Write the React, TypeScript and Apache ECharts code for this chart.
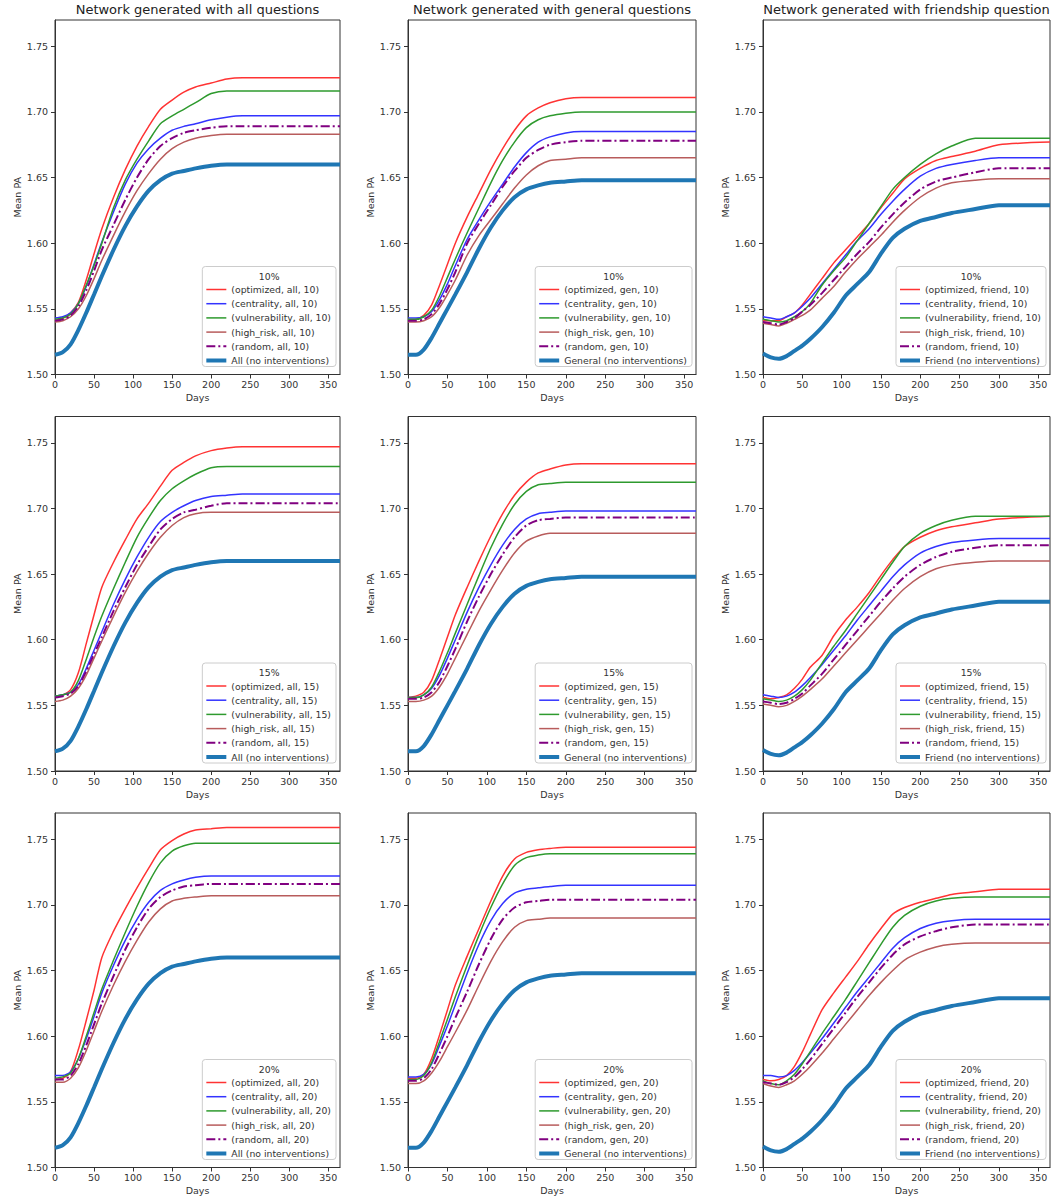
import React, { useEffect, useRef } from 'react';
import * as echarts from 'echarts';

// ---------- data ----------
const days = [0, 10, 20, 30, 40, 50, 60, 75, 90, 105, 120, 135, 150, 165, 180, 200, 220, 240, 270, 300, 365];

const xTicks = [0, 50, 100, 150, 200, 250, 300, 350];
const yTicks = [1.5, 1.55, 1.6, 1.65, 1.7, 1.75];

const columnTitles = [
  'Network generated with all questions',
  'Network generated with general questions',
  'Network generated with friendship question',
];
const strategies = ['optimized', 'centrality', 'vulnerability', 'high_risk', 'random'];
const networkTags = ['all', 'gen', 'friend'];
const baselineNames = ['All', 'General', 'Friend'];
const percents = [10, 15, 20];

// all questions
const all10Optimized = [1.541, 1.543, 1.547, 1.555, 1.572, 1.592, 1.611, 1.635, 1.656, 1.674, 1.689, 1.702, 1.709, 1.715, 1.719, 1.722, 1.725, 1.726, 1.726, 1.726, 1.726];
const all10Centrality = [1.543, 1.544, 1.547, 1.554, 1.567, 1.584, 1.601, 1.624, 1.645, 1.661, 1.672, 1.680, 1.686, 1.689, 1.691, 1.694, 1.696, 1.697, 1.697, 1.697, 1.697];
const all10Vulnerability = [1.542, 1.543, 1.546, 1.554, 1.568, 1.583, 1.600, 1.627, 1.648, 1.664, 1.678, 1.691, 1.697, 1.702, 1.707, 1.714, 1.716, 1.716, 1.716, 1.716, 1.716];
const all10HighRisk = [1.540, 1.541, 1.544, 1.550, 1.560, 1.573, 1.587, 1.606, 1.624, 1.640, 1.653, 1.664, 1.672, 1.677, 1.680, 1.682, 1.683, 1.683, 1.683, 1.683, 1.683];
const all10Random = [1.541, 1.542, 1.545, 1.552, 1.564, 1.579, 1.595, 1.614, 1.633, 1.650, 1.664, 1.674, 1.680, 1.684, 1.686, 1.688, 1.689, 1.689, 1.689, 1.689, 1.689];

const all15Optimized = [1.557, 1.558, 1.562, 1.575, 1.597, 1.619, 1.640, 1.659, 1.676, 1.692, 1.704, 1.717, 1.729, 1.735, 1.740, 1.744, 1.746, 1.747, 1.747, 1.747, 1.747];
const all15Centrality = [1.557, 1.558, 1.560, 1.566, 1.578, 1.592, 1.606, 1.627, 1.646, 1.663, 1.678, 1.690, 1.697, 1.702, 1.706, 1.709, 1.710, 1.711, 1.711, 1.711, 1.711];
const all15Vulnerability = [1.557, 1.558, 1.560, 1.569, 1.585, 1.602, 1.618, 1.639, 1.659, 1.678, 1.693, 1.706, 1.715, 1.721, 1.726, 1.731, 1.732, 1.732, 1.732, 1.732, 1.732];
const all15HighRisk = [1.553, 1.554, 1.557, 1.563, 1.573, 1.586, 1.599, 1.618, 1.636, 1.652, 1.666, 1.678, 1.687, 1.693, 1.696, 1.697, 1.697, 1.697, 1.697, 1.697, 1.697];
const all15Random = [1.556, 1.557, 1.559, 1.565, 1.576, 1.589, 1.602, 1.622, 1.640, 1.657, 1.671, 1.684, 1.692, 1.697, 1.699, 1.702, 1.704, 1.704, 1.704, 1.704, 1.704];

const all20Optimized = [1.567, 1.568, 1.573, 1.590, 1.612, 1.635, 1.660, 1.680, 1.697, 1.713, 1.728, 1.742, 1.749, 1.754, 1.757, 1.758, 1.759, 1.759, 1.759, 1.759, 1.759];
const all20Centrality = [1.570, 1.570, 1.573, 1.583, 1.598, 1.615, 1.633, 1.654, 1.673, 1.689, 1.702, 1.711, 1.716, 1.719, 1.721, 1.722, 1.722, 1.722, 1.722, 1.722, 1.722];
const all20Vulnerability = [1.568, 1.569, 1.572, 1.583, 1.600, 1.618, 1.636, 1.658, 1.679, 1.699, 1.717, 1.732, 1.741, 1.745, 1.747, 1.747, 1.747, 1.747, 1.747, 1.747, 1.747];
const all20HighRisk = [1.565, 1.565, 1.568, 1.576, 1.589, 1.604, 1.619, 1.639, 1.657, 1.673, 1.687, 1.697, 1.703, 1.705, 1.706, 1.707, 1.707, 1.707, 1.707, 1.707, 1.707];
const all20Random = [1.567, 1.567, 1.570, 1.579, 1.593, 1.609, 1.625, 1.646, 1.666, 1.683, 1.697, 1.706, 1.711, 1.714, 1.715, 1.716, 1.716, 1.716, 1.716, 1.716, 1.716];

// general questions
const gen10Optimized = [1.541, 1.542, 1.545, 1.553, 1.568, 1.584, 1.600, 1.620, 1.638, 1.656, 1.672, 1.686, 1.697, 1.703, 1.707, 1.710, 1.711, 1.711, 1.711, 1.711, 1.711];
const gen10Centrality = [1.543, 1.543, 1.544, 1.548, 1.557, 1.569, 1.583, 1.603, 1.618, 1.632, 1.645, 1.658, 1.669, 1.677, 1.681, 1.684, 1.685, 1.685, 1.685, 1.685, 1.685];
const gen10Vulnerability = [1.542, 1.542, 1.544, 1.549, 1.560, 1.574, 1.588, 1.608, 1.627, 1.646, 1.663, 1.677, 1.688, 1.694, 1.697, 1.699, 1.700, 1.700, 1.700, 1.700, 1.700];
const gen10HighRisk = [1.540, 1.540, 1.541, 1.544, 1.551, 1.561, 1.572, 1.591, 1.606, 1.618, 1.630, 1.642, 1.652, 1.659, 1.663, 1.664, 1.665, 1.665, 1.665, 1.665, 1.665];
const gen10Random = [1.541, 1.541, 1.542, 1.546, 1.554, 1.565, 1.578, 1.600, 1.615, 1.629, 1.643, 1.655, 1.665, 1.671, 1.675, 1.677, 1.678, 1.678, 1.678, 1.678, 1.678];

const gen15Optimized = [1.556, 1.557, 1.560, 1.569, 1.585, 1.602, 1.619, 1.640, 1.660, 1.679, 1.696, 1.710, 1.720, 1.727, 1.730, 1.733, 1.734, 1.734, 1.734, 1.734, 1.734];
const gen15Centrality = [1.556, 1.556, 1.558, 1.563, 1.573, 1.586, 1.600, 1.621, 1.640, 1.657, 1.672, 1.684, 1.692, 1.696, 1.697, 1.698, 1.698, 1.698, 1.698, 1.698, 1.698];
const gen15Vulnerability = [1.556, 1.556, 1.558, 1.564, 1.576, 1.590, 1.605, 1.627, 1.649, 1.670, 1.688, 1.703, 1.713, 1.718, 1.719, 1.720, 1.720, 1.720, 1.720, 1.720, 1.720];
const gen15HighRisk = [1.553, 1.553, 1.554, 1.557, 1.564, 1.574, 1.586, 1.604, 1.622, 1.638, 1.653, 1.666, 1.675, 1.679, 1.681, 1.681, 1.681, 1.681, 1.681, 1.681, 1.681];
const gen15Random = [1.555, 1.555, 1.556, 1.560, 1.568, 1.580, 1.593, 1.614, 1.633, 1.650, 1.665, 1.678, 1.687, 1.691, 1.692, 1.693, 1.693, 1.693, 1.693, 1.693, 1.693];

const gen20Optimized = [1.568, 1.568, 1.571, 1.583, 1.601, 1.620, 1.639, 1.661, 1.682, 1.703, 1.722, 1.735, 1.740, 1.742, 1.743, 1.744, 1.744, 1.744, 1.744, 1.744, 1.744];
const gen20Centrality = [1.569, 1.569, 1.571, 1.579, 1.593, 1.608, 1.624, 1.648, 1.670, 1.688, 1.701, 1.709, 1.712, 1.713, 1.714, 1.715, 1.715, 1.715, 1.715, 1.715, 1.715];
const gen20Vulnerability = [1.567, 1.567, 1.570, 1.580, 1.596, 1.613, 1.630, 1.654, 1.677, 1.698, 1.716, 1.730, 1.736, 1.738, 1.739, 1.739, 1.739, 1.739, 1.739, 1.739, 1.739];
const gen20HighRisk = [1.564, 1.564, 1.566, 1.572, 1.581, 1.592, 1.603, 1.620, 1.639, 1.657, 1.672, 1.683, 1.688, 1.689, 1.690, 1.690, 1.690, 1.690, 1.690, 1.690, 1.690];
const gen20Random = [1.566, 1.566, 1.568, 1.575, 1.587, 1.600, 1.614, 1.634, 1.655, 1.674, 1.689, 1.698, 1.702, 1.703, 1.704, 1.704, 1.704, 1.704, 1.704, 1.704, 1.704];

// friendship question
const friend10Optimized = [1.541, 1.541, 1.541, 1.544, 1.547, 1.553, 1.561, 1.573, 1.585, 1.595, 1.605, 1.615, 1.627, 1.638, 1.649, 1.657, 1.663, 1.666, 1.670, 1.675, 1.677];
const friend10Centrality = [1.544, 1.543, 1.542, 1.544, 1.547, 1.552, 1.558, 1.569, 1.580, 1.591, 1.602, 1.611, 1.622, 1.632, 1.641, 1.651, 1.657, 1.660, 1.663, 1.665, 1.665];
const friend10Vulnerability = [1.542, 1.541, 1.540, 1.541, 1.544, 1.548, 1.554, 1.568, 1.579, 1.589, 1.602, 1.615, 1.628, 1.641, 1.650, 1.660, 1.668, 1.674, 1.680, 1.680, 1.680];
const friend10HighRisk = [1.539, 1.538, 1.537, 1.539, 1.542, 1.545, 1.549, 1.558, 1.567, 1.578, 1.588, 1.597, 1.606, 1.616, 1.625, 1.635, 1.642, 1.646, 1.648, 1.649, 1.649];
const friend10Random = [1.540, 1.539, 1.538, 1.540, 1.543, 1.548, 1.553, 1.562, 1.572, 1.582, 1.592, 1.601, 1.612, 1.622, 1.631, 1.641, 1.647, 1.650, 1.654, 1.657, 1.657];

const friend15Optimized = [1.556, 1.555, 1.556, 1.558, 1.563, 1.570, 1.579, 1.588, 1.603, 1.615, 1.625, 1.636, 1.649, 1.661, 1.671, 1.678, 1.683, 1.686, 1.689, 1.692, 1.694];
const friend15Centrality = [1.558, 1.557, 1.556, 1.557, 1.560, 1.565, 1.571, 1.581, 1.592, 1.603, 1.615, 1.626, 1.637, 1.648, 1.657, 1.666, 1.671, 1.674, 1.676, 1.677, 1.677];
const friend15Vulnerability = [1.555, 1.554, 1.553, 1.554, 1.557, 1.562, 1.569, 1.582, 1.595, 1.607, 1.620, 1.633, 1.646, 1.659, 1.671, 1.681, 1.687, 1.691, 1.694, 1.694, 1.694];
const friend15HighRisk = [1.551, 1.550, 1.549, 1.550, 1.553, 1.557, 1.562, 1.570, 1.580, 1.590, 1.600, 1.610, 1.620, 1.630, 1.639, 1.648, 1.654, 1.657, 1.659, 1.660, 1.660];
const friend15Random = [1.553, 1.552, 1.551, 1.552, 1.555, 1.559, 1.565, 1.574, 1.585, 1.596, 1.607, 1.618, 1.629, 1.639, 1.648, 1.657, 1.663, 1.667, 1.670, 1.672, 1.672];

const friend20Optimized = [1.567, 1.566, 1.567, 1.570, 1.577, 1.588, 1.601, 1.620, 1.633, 1.645, 1.657, 1.670, 1.682, 1.693, 1.698, 1.702, 1.705, 1.708, 1.710, 1.712, 1.712];
const friend20Centrality = [1.570, 1.570, 1.569, 1.570, 1.574, 1.580, 1.587, 1.598, 1.610, 1.622, 1.634, 1.645, 1.656, 1.667, 1.675, 1.682, 1.686, 1.688, 1.689, 1.689, 1.689];
const friend20Vulnerability = [1.566, 1.564, 1.563, 1.566, 1.571, 1.579, 1.588, 1.602, 1.615, 1.628, 1.642, 1.656, 1.670, 1.683, 1.692, 1.699, 1.703, 1.705, 1.706, 1.706, 1.706];
const friend20HighRisk = [1.564, 1.562, 1.561, 1.563, 1.566, 1.571, 1.577, 1.587, 1.598, 1.609, 1.620, 1.631, 1.641, 1.650, 1.658, 1.664, 1.668, 1.670, 1.671, 1.671, 1.671];
const friend20Random = [1.565, 1.564, 1.563, 1.565, 1.569, 1.575, 1.582, 1.594, 1.606, 1.618, 1.630, 1.641, 1.652, 1.662, 1.670, 1.676, 1.680, 1.683, 1.685, 1.685, 1.685];

// no interventions (baselines), one per network
const allBaseline = [1.515, 1.517, 1.523, 1.534, 1.547, 1.561, 1.575, 1.595, 1.613, 1.628, 1.640, 1.648, 1.653, 1.655, 1.657, 1.659, 1.660, 1.660, 1.660, 1.660, 1.660];
const genBaseline = [1.515, 1.515, 1.519, 1.528, 1.539, 1.550, 1.561, 1.578, 1.596, 1.612, 1.625, 1.635, 1.641, 1.644, 1.646, 1.647, 1.648, 1.648, 1.648, 1.648, 1.648];
const friendBaseline = [1.516, 1.513, 1.512, 1.514, 1.518, 1.522, 1.527, 1.536, 1.547, 1.560, 1.569, 1.578, 1.592, 1.604, 1.611, 1.617, 1.620, 1.623, 1.626, 1.629, 1.629];

// panels[row][col] = [optimized, centrality, vulnerability, high_risk, random]
const panels = [
  [
    [all10Optimized, all10Centrality, all10Vulnerability, all10HighRisk, all10Random],
    [gen10Optimized, gen10Centrality, gen10Vulnerability, gen10HighRisk, gen10Random],
    [friend10Optimized, friend10Centrality, friend10Vulnerability, friend10HighRisk, friend10Random],
  ],
  [
    [all15Optimized, all15Centrality, all15Vulnerability, all15HighRisk, all15Random],
    [gen15Optimized, gen15Centrality, gen15Vulnerability, gen15HighRisk, gen15Random],
    [friend15Optimized, friend15Centrality, friend15Vulnerability, friend15HighRisk, friend15Random],
  ],
  [
    [all20Optimized, all20Centrality, all20Vulnerability, all20HighRisk, all20Random],
    [gen20Optimized, gen20Centrality, gen20Vulnerability, gen20HighRisk, gen20Random],
    [friend20Optimized, friend20Centrality, friend20Vulnerability, friend20HighRisk, friend20Random],
  ],
];
const baselines = [allBaseline, genBaseline, friendBaseline];

// ---------- styles / layout ----------
const FONT = 'DejaVu Sans';
const TEXT = '#333333';
const AXIS = '#333333';
const strategyStyles = [
  { color: '#ff3333', width: 1.5, dash: null as number[] | null },
  { color: '#3333ff', width: 1.5, dash: null },
  { color: '#2e9a2e', width: 1.5, dash: null },
  { color: '#b85c5c', width: 1.5, dash: null },
  { color: '#800080', width: 2, dash: [9, 3, 2, 3] },
];
const baselineStyle = { color: '#1f77b4', width: 4 };

const colLeft = [55, 408, 763];
const colWidth = [285, 288, 287];
const rowTop = [20, 416.5, 813];
const rowHeight = 354.5;
const TICK_FS = 9.5;
const LEGEND_FS = 9.3;

function measure(text: string, size: number) {
  const ctx = document.createElement('canvas').getContext('2d');
  if (!ctx) return text.length * size * 0.55;
  ctx.font = `${size}px "${FONT}"`;
  return ctx.measureText(text).width;
}

export default function App() {
  const ref = useRef<HTMLDivElement>(null);

  useEffect(() => {
    document.body.style.margin = '0';
    if (!ref.current) return;
    const chart = echarts.init(ref.current, undefined, { renderer: 'svg', width: 1055, height: 1200 });

    const grids: any[] = [];
    const xAxes: any[] = [];
    const yAxes: any[] = [];
    const series: any[] = [];
    const graphics: any[] = [];

    const textBase = { fontFamily: FONT, color: TEXT };

    for (let r = 0; r < 3; r++) {
      for (let c = 0; c < 3; c++) {
        const idx = r * 3 + c;
        const left = colLeft[c];
        const top = rowTop[r];
        const width = colWidth[c];
        grids.push({
          left, top, width, height: rowHeight,
          show: true, borderColor: AXIS, borderWidth: 1, backgroundColor: 'transparent',
        });
        xAxes.push({
          type: 'value', gridIndex: idx, min: 0, max: 365, interval: 50,
          axisLine: { show: true, onZero: false, lineStyle: { color: AXIS, width: 1 } },
          axisTick: { show: true, length: 4, customValues: xTicks, lineStyle: { color: AXIS } },
          axisLabel: {
            ...textBase, fontSize: TICK_FS, margin: 5, customValues: xTicks,
            formatter: (v: number) => (xTicks.includes(v) ? String(v) : ''),
          },
          splitLine: { show: false },
          name: 'Days', nameLocation: 'middle', nameGap: 18,
          nameTextStyle: { ...textBase, fontSize: TICK_FS },
        });
        yAxes.push({
          type: 'value', gridIndex: idx, min: 1.5, max: 1.77, interval: 0.05,
          axisLine: { show: true, onZero: false, lineStyle: { color: AXIS, width: 1 } },
          axisTick: { show: true, length: 4, customValues: yTicks, lineStyle: { color: AXIS } },
          axisLabel: {
            ...textBase, fontSize: TICK_FS, margin: 7, customValues: yTicks,
            formatter: (v: number) => (v > 1.76 ? '' : v.toFixed(2)),
          },
          splitLine: { show: false },
          name: 'Mean PA', nameLocation: 'middle', nameGap: 31,
          nameTextStyle: { ...textBase, fontSize: TICK_FS },
        });

        const tag = networkTags[c];
        const pct = percents[r];
        const labels: string[] = [];
        panels[r][c].forEach((vals, k) => {
          const st = strategyStyles[k];
          const name = `(${strategies[k]}, ${tag}, ${pct})`;
          labels.push(name);
          series.push({
            type: 'line', name, xAxisIndex: idx, yAxisIndex: idx,
            data: days.map((d, j) => [d, vals[j]]),
            showSymbol: false, symbol: 'none', smooth: 0.25, silent: true,
            lineStyle: { color: st.color, width: st.width, type: st.dash ? st.dash : 'solid' },
            z: 2 + k,
          });
        });
        const baseName = `${baselineNames[c]} (no interventions)`;
        labels.push(baseName);
        series.push({
          type: 'line', name: baseName, xAxisIndex: idx, yAxisIndex: idx,
          data: days.map((d, j) => [d, baselines[c][j]]),
          showSymbol: false, symbol: 'none', smooth: 0.25, silent: true,
          lineStyle: { color: baselineStyle.color, width: baselineStyle.width },
          z: 8,
        });

        // legend (matplotlib-style box, bottom right)
        const maxW = Math.max(...labels.map((t) => measure(t, LEGEND_FS)));
        const boxW = 29 + maxW + 5;
        const boxH = 100;
        const boxRight = left + width - 4;
        const boxBottom = top + rowHeight - 8;
        const bx = boxRight - boxW;
        const by = boxBottom - boxH;
        graphics.push({
          type: 'rect', z: 20, silent: true,
          shape: { x: bx, y: by, width: boxW, height: boxH, r: 3 },
          style: { fill: 'rgba(255,255,255,0.85)', stroke: '#cccccc', lineWidth: 1 },
        });
        graphics.push({
          type: 'text', z: 21, silent: true, x: bx + boxW / 2, y: by + 9.5,
          style: {
            text: `${pct}%`, fill: TEXT, fontSize: LEGEND_FS, fontFamily: FONT,
            align: 'center', verticalAlign: 'middle', textAlign: 'center', textVerticalAlign: 'middle',
          },
        });
        labels.forEach((t, k) => {
          const ey = by + 23 + k * 14.2;
          const isBase = k === 5;
          const st = isBase ? null : strategyStyles[k];
          graphics.push({
            type: 'line', z: 21, silent: true,
            shape: { x1: bx + 4, y1: ey, x2: bx + 24, y2: ey },
            style: {
              stroke: isBase ? baselineStyle.color : st!.color,
              lineWidth: isBase ? baselineStyle.width : st!.width,
              lineDash: !isBase && st!.dash ? st!.dash : null,
            },
          });
          graphics.push({
            type: 'text', z: 21, silent: true, x: bx + 29, y: ey,
            style: {
              text: t, fill: TEXT, fontSize: LEGEND_FS, fontFamily: FONT,
              align: 'left', verticalAlign: 'middle', textAlign: 'left', textVerticalAlign: 'middle',
            },
          });
        });

        if (r === 0) {
          graphics.push({
            type: 'text', z: 21, silent: true, x: left + width / 2, y: 9.5,
            style: {
              text: columnTitles[c], fill: '#222222', fontSize: 13, fontFamily: FONT,
              align: 'center', verticalAlign: 'middle', textAlign: 'center', textVerticalAlign: 'middle',
            },
          });
        }
      }
    }

    chart.setOption({
      animation: false,
      backgroundColor: '#ffffff',
      textStyle: { fontFamily: FONT },
      grid: grids,
      xAxis: xAxes,
      yAxis: yAxes,
      series,
      graphic: { elements: graphics },
    });

    return () => chart.dispose();
  }, []);

  return <div ref={ref} style={{ width: 1055, height: 1200 }} />;
}
